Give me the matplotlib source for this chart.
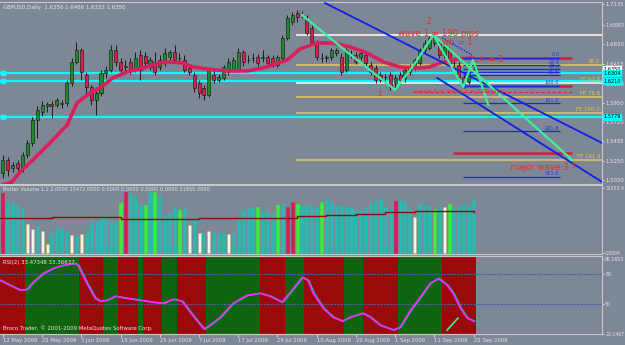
import numpy as np
import matplotlib
matplotlib.use('Agg')
import matplotlib.pyplot as plt
import matplotlib.transforms as mtransforms

# ---------------------------------------------------------------
# 画布尺寸（像素）与配色
# ---------------------------------------------------------------
W, H = 625, 345
BG = '#7d8796'
FG = '#e6e6e6'

# ---------------------------------------------------------------
# 数据：GBPUSD 日线（12 May 2009 – 22 Sep 2009，共 97 根 K 线）
# ---------------------------------------------------------------
opens = [1.5107, 1.5263, 1.5167, 1.5227, 1.5167, 1.5323, 1.5467, 1.5743, 1.5839, 1.5911,
         1.5935, 1.5923, 1.5935, 1.5947, 1.6187, 1.6439, 1.6583, 1.6283, 1.6139, 1.5983,
         1.6067, 1.6307, 1.6343, 1.6583, 1.6439, 1.6379, 1.6439, 1.6343, 1.6523, 1.6511,
         1.6379, 1.6439, 1.6379, 1.6427, 1.6499, 1.6559, 1.6487, 1.6463, 1.6367, 1.6283,
         1.6187, 1.6127, 1.6043, 1.6283, 1.6223, 1.6247, 1.6319, 1.6343, 1.6343, 1.6559,
         1.6463, 1.6487, 1.6499, 1.6487, 1.6499, 1.6487, 1.6403, 1.6487, 1.6727, 1.6919,
         1.7027, 1.7003, 1.6943, 1.6847, 1.6667, 1.6487, 1.6487, 1.6499, 1.6547, 1.6499,
         1.6343, 1.6523, 1.6523, 1.6499, 1.6523, 1.6403, 1.6367, 1.6283, 1.6259, 1.6283,
         1.6187, 1.6283, 1.6247, 1.6319, 1.6379, 1.6427, 1.6583, 1.6607, 1.6667, 1.6679,
         1.6523, 1.6583, 1.6427, 1.6403, 1.6259, 1.6199, 1.6356]
closes = [1.5263, 1.5143, 1.5203, 1.5167, 1.5323, 1.5467, 1.5743, 1.5863, 1.5923, 1.5935,
          1.5911, 1.5983, 1.5947, 1.6187, 1.6439, 1.6583, 1.6319, 1.6139, 1.5983, 1.6067,
          1.6307, 1.6343, 1.6583, 1.6439, 1.6343, 1.6391, 1.6343, 1.6487, 1.6343, 1.6427,
          1.6463, 1.6319, 1.6463, 1.6547, 1.6559, 1.6463, 1.6481, 1.6343, 1.6319, 1.6127,
          1.6067, 1.6043, 1.6343, 1.6223, 1.6259, 1.6379, 1.6439, 1.6463, 1.6559, 1.6439,
          1.6457, 1.6481, 1.6427, 1.6499, 1.6427, 1.6403, 1.6499, 1.6727, 1.6967, 1.7003,
          1.6979, 1.6997, 1.6787, 1.6679, 1.6499, 1.6481, 1.6493, 1.6583, 1.6583, 1.6319,
          1.6583, 1.6517, 1.6439, 1.6547, 1.6427, 1.6319, 1.6223, 1.6223, 1.6253, 1.6139,
          1.6247, 1.6223, 1.6343, 1.6379, 1.6463, 1.6583, 1.6667, 1.6727, 1.6739, 1.6523,
          1.6619, 1.6427, 1.6421, 1.6259, 1.6139, 1.6319, 1.6350]
highs = [1.5323, 1.5299, 1.5239, 1.5263, 1.5359, 1.5503, 1.5779, 1.5911, 1.5971, 1.5959,
         1.5971, 1.6007, 1.5983, 1.6223, 1.6487, 1.6679, 1.6607, 1.6319, 1.6163, 1.6139,
         1.6343, 1.6391, 1.6643, 1.6643, 1.6487, 1.6463, 1.6487, 1.6559, 1.6583, 1.6559,
         1.6499, 1.6559, 1.6523, 1.6607, 1.6583, 1.6643, 1.6547, 1.6523, 1.6403, 1.6319,
         1.6223, 1.6163, 1.6367, 1.6343, 1.6295, 1.6403, 1.6487, 1.6499, 1.6607, 1.6583,
         1.6523, 1.6547, 1.6535, 1.6583, 1.6523, 1.6523, 1.6523, 1.6763, 1.7003, 1.7039,
         1.7063, 1.7051, 1.7003, 1.6883, 1.6703, 1.6547, 1.6523, 1.6607, 1.6607, 1.6547,
         1.6607, 1.6583, 1.6559, 1.6583, 1.6559, 1.6439, 1.6403, 1.6319, 1.6295, 1.6319,
         1.6283, 1.6319, 1.6367, 1.6415, 1.6487, 1.6607, 1.6703, 1.6751, 1.6763, 1.6703,
         1.6643, 1.6619, 1.6463, 1.6439, 1.6283, 1.6343, 1.6466]
lows = [1.5047, 1.5071, 1.5119, 1.5095, 1.5119, 1.5287, 1.5431, 1.5527, 1.5791, 1.5839,
        1.5767, 1.5899, 1.5887, 1.5911, 1.6151, 1.6415, 1.6223, 1.6043, 1.5923, 1.5803,
        1.6031, 1.6247, 1.6319, 1.6391, 1.6283, 1.6319, 1.6295, 1.6319, 1.6223, 1.6391,
        1.6343, 1.6283, 1.6343, 1.6391, 1.6463, 1.6427, 1.6439, 1.6319, 1.6283, 1.6079,
        1.6007, 1.5983, 1.6019, 1.6187, 1.6199, 1.6223, 1.6283, 1.6319, 1.6319, 1.6391,
        1.6427, 1.6439, 1.6391, 1.6439, 1.6391, 1.6379, 1.6379, 1.6463, 1.6703, 1.6883,
        1.6919, 1.6967, 1.6763, 1.6643, 1.6463, 1.6439, 1.6439, 1.6463, 1.6511, 1.6283,
        1.6319, 1.6487, 1.6415, 1.6463, 1.6391, 1.6283, 1.6187, 1.6199, 1.6199, 1.6103,
        1.6103, 1.6175, 1.6199, 1.6283, 1.6343, 1.6403, 1.6547, 1.6583, 1.6631, 1.6487,
        1.6487, 1.6391, 1.6391, 1.6223, 1.6127, 1.6175, 1.6332]

# 均线（读取的若干点：bar 序号, 价格）
ma_idx = [-0.6, 1.8, 3.5, 6.1, 9.6, 13.1, 15.1, 17.8, 19.8, 22.4, 25.3, 28.6, 32.0, 34.0,
          36.5, 38.8, 41.6, 45.7, 49.8, 53.0, 55.0, 58.0, 60.6, 64.0, 67.3, 70.8, 74.3,
          77.6, 81.0, 84.5, 87.0, 89.8, 92.7, 96.0]
ma_val = [1.4951, 1.4999, 1.5119, 1.5263, 1.5467, 1.5683, 1.5947, 1.6067, 1.6127, 1.6247,
          1.6319, 1.6367, 1.6427, 1.6439, 1.6427, 1.6379, 1.6355, 1.6331, 1.6331, 1.6367,
          1.6403, 1.6463, 1.6595, 1.6667, 1.6667, 1.6619, 1.6547, 1.6439, 1.6379, 1.6367,
          1.6379, 1.6439, 1.6475, 1.6487]

# 成交量（Better Volume）及颜色类别
volumes = [29090, 24650, 24160, 23170, 21690, 14300, 11830, 13310, 10850, 4440,
           9860, 12330, 11830, 10850, 8870, 8380, 9370, 10850, 15780, 15780,
           16760, 18240, 15780, 15780, 24160, 29580, 29090, 27120, 23170, 23170,
           29580, 29580, 28100, 17260, 19230, 22190, 20710, 21690, 13800, 16760,
           9860, 9860, 10850, 9860, 9860, 9860, 9370, 9860, 17260, 20710,
           21690, 22190, 22190, 19720, 19720, 19230, 23170, 24160, 22190, 24650,
           23660, 23170, 23170, 23170, 21690, 24650, 26130, 24650, 23170, 22680,
           22190, 22190, 20210, 20710, 22190, 24160, 25140, 26130, 22190, 20710,
           25140, 25640, 24650, 20710, 17260, 24160, 23170, 22680, 21200, 22680,
           22190, 23660, 21690, 22680, 23660, 22680, 25640]
vol_kind = ['r', 't', 't', 't', 't', 'w', 'w', 't', 'w', 'w',
            't', 't', 't', 't', 'w', 't', 'w', 't', 't', 't',
            't', 't', 't', 't', 'g', 'r', 't', 't', 't', 'g',
            't', 'g', 't', 't', 't', 't', 'g', 't', 'w', 't',
            'w', 't', 'w', 't', 't', 't', 'w', 't', 't', 't',
            't', 't', 'g', 't', 't', 't', 'g', 't', 'r', 'r',
            'g', 't', 't', 't', 't', 'g', 't', 't', 't', 't',
            't', 't', 't', 't', 't', 't', 't', 't', 't', 't',
            'r', 't', 't', 't', 'w', 't', 't', 't', 'g', 't',
            'w', 'g', 't', 't', 't', 't', 't']
vol_ma_idx = [-0.6, 10, 24, 40, 50, 60, 66, 72, 78, 84, 90, 96]
vol_ma_val = [16760, 17260, 16270, 16760, 16760, 17750, 18240, 18730, 19720, 20210, 20210, 19720]

# RSI(2) 曲线
rsi_idx = [-0.6, 1.4, 3.5, 4.9, 6.1, 8.2, 10.2, 12.2, 14.7, 15.3, 17.1, 18.8, 19.8, 21.2,
           22.9, 25.3, 28.0, 30.6, 32.7, 34.7, 36.5, 38.2, 39.8, 41.0, 42.2, 44.3, 46.9,
           49.8, 52.4, 54.5, 56.9, 58.6, 61.0, 62.2, 63.3, 65.3, 67.3, 69.2, 70.8, 73.3,
           74.9, 76.9, 79.6, 81.0, 83.1, 85.1, 87.1, 88.8, 90.6, 91.8, 93.3, 94.7, 96.0]
rsi_val = [74, 69, 64, 65, 72, 81, 86, 89, 91, 89, 71, 56, 53, 54,
           58, 56, 54, 52, 51, 55, 53, 42, 32, 25, 29, 37, 51,
           59, 61, 58, 52, 62, 77, 74, 61, 46, 37, 33, 37, 41,
           37, 29, 24, 27, 44, 57, 71, 76, 69, 61, 46, 36, 33]
# RSI 背景区间（红/绿交替）
zone_edges = [-0.6, 4.5, 15.5, 20.5, 23.5, 27.5, 28.5, 32.5, 35.5, 41.5, 52.5, 57.5,
              61.5, 69.5, 73.5, 80.5, 89.5, 96.5]
zone_cols = ['r', 'g', 'r', 'g', 'r', 'g', 'r', 'g', 'r', 'g', 'r', 'g',
             'r', 'g', 'r', 'g', 'r']

# 水平线 / 斐波那契
cyan_levels = [1.6304, 1.6210, 1.5779]
level_prices = [1.6763, 1.6403, 1.6187, 1.6019, 1.5827, 1.5263]
level_cols = ['#efe4d6', '#cdbb6a', '#e8e6d8', '#cdbb6a', '#cdbb6a', '#cdbb6a']
fe_labels = ['', '38.2', 'FE 61.8', 'FE 78.6', 'FE 100.0', 'FE 161.8']
fib_top, fib_bot = 1.6487, 1.6151
fib_ratios = [0.0, 23.6, 38.2, 50.0, 61.8, 100.0, 161.8, 261.8, 423.6]
red_levels = [1.6487, 1.6151, 1.5347]
red_starts = [96.0, 93.9, 91.8]

# 波浪连线（绿色）
zz_idx = [61.0, 70.2, 80.0, 84.1, 87.8, 93.9, 95.9, 99.0]
zz_val = [1.7003, 1.6559, 1.6103, 1.6427, 1.6763, 1.6139, 1.6463, 1.5923]
long_idx = [87.8, 116.1]
long_val = [1.6763, 1.5263]
# 蓝色通道线
chan_a_idx, chan_a_val = [65.7, 122.2], [1.7147, 1.5467]
chan_b_idx, chan_b_val = [88.6, 122.2], [1.6247, 1.4999]
dot_idx, dot_val = [89.6, 95.7], [1.6727, 1.6523]

date_labels = ['12 May 2009', '22 May 2009', '3 Jun 2009', '15 Jun 2009', '25 Jun 2009',
               '7 Jul 2009', '17 Jul 2009', '29 Jul 2009', '10 Aug 2009', '20 Aug 2009',
               '1 Sep 2009', '11 Sep 2009', '22 Sep 2009']
price_ticks = [1.7135, 1.6880, 1.6650, 1.6415, 1.6180, 1.5950, 1.5720, 1.5485, 1.5250, 1.5020]

# ---------------------------------------------------------------
# 画布与子图（按像素定位，模仿 MT4 布局）
# ---------------------------------------------------------------
fig = plt.figure(figsize=(W / 100, H / 100), dpi=100, facecolor=BG)
SMALL = 3.9


def px_axes(x0, y0, x1, y1, lab=SMALL):
    ax = fig.add_axes([x0 / W, 1 - y1 / H, (x1 - x0) / W, (y1 - y0) / H])
    ax.set_facecolor(BG)
    for s in ax.spines.values():
        s.set_color('#c8c8c8')
        s.set_linewidth(0.8)
    ax.spines['left'].set_visible(False)
    ax.tick_params(colors=FG, labelsize=lab, length=1.5, width=0.6, pad=0.8)
    ax.yaxis.tick_right()
    ax.set_xticks([])
    return ax


XL = (-0.6, 122.2)
ax = px_axes(0, 2, 602, 184)
axv = px_axes(0, 185, 602, 254, lab=3.3)
axr = px_axes(0, 256, 602, 334, lab=3.3)
for a in (ax, axv, axr):
    a.set_xlim(*XL)

x = np.arange(len(opens))
o, c, h, l = map(np.array, (opens, closes, highs, lows))

# ---------------- 主图：K 线 ----------------
ax.set_ylim(1.4974, 1.7159)
ax.set_yticks(price_ticks)
ax.set_yticklabels([f'{p:.4f}' for p in price_ticks])

for p, col in zip(level_prices, level_cols):
    ax.hlines(p, 59.8, XL[1], color=col, lw=1.4, zorder=2)
for p in cyan_levels:
    ax.axhline(p, color='#00ffff', lw=1.6, zorder=2)
    ax.plot(0, p, 's', ms=2.5, color='#00ffff', zorder=3)

ax.vlines(x, l, h, color='#1a1a1a', lw=0.7, zorder=4)
up = c >= o
ax.bar(x[up], (c - o)[up], bottom=o[up], width=0.62, color='#1f8a2a',
       edgecolor='#101010', lw=0.4, zorder=5)
ax.bar(x[~up], (c - o)[~up], bottom=o[~up], width=0.62, color='#dc1f4a',
       edgecolor='#101010', lw=0.4, zorder=5)

ax.plot(ma_idx, ma_val, color='#dc1f5a', lw=2.6, solid_capstyle='round', zorder=6)

# 红色目标线
for p, s in zip(red_levels, red_starts):
    ax.hlines(p, s, 116.1, color='#d8203a', lw=1.8, zorder=6)
ax.hlines(1.6075, 83.7, 116.1, color='#d8203a', lw=0.8, ls=(0, (3, 2)), zorder=6)

# 斐波那契扩展（蓝色）
for r in fib_ratios:
    p = fib_top + (fib_bot - fib_top) * r / 100
    ax.hlines(p, 93.9, 113.7, color='#1c28e0', lw=0.9, zorder=7)
    ax.text(113.5, p + 0.0006, f'{r:.1f}', color='#2030ff', fontsize=3.6,
            ha='right', va='bottom', zorder=8)

# 蓝色通道
ax.plot(chan_a_idx, chan_a_val, color='#1020e8', lw=1.3, zorder=7)
ax.plot(chan_b_idx, chan_b_val, color='#1020e8', lw=1.3, zorder=7)
ax.plot(dot_idx, dot_val, color='#1020e8', lw=1.0, ls=(0, (1, 1)), zorder=7)

# 绿色波浪线
ax.plot(zz_idx, zz_val, color='#3cf0a0', lw=1.6, zorder=8)
ax.plot(long_idx, long_val, color='#3cf0a0', lw=1.6, zorder=8)

# 黄色 FE 标签
for p, t in zip(level_prices, fe_labels):
    if t:
        ax.text(121.8, p + 0.0010, t, color='#e0c840', fontsize=3.9,
                ha='right', va='bottom', zorder=8)

# 红色文字注释
red_txt = '#e8301e'
ax.text(86.9, 1.6919, '2', color=red_txt, fontsize=5.5, ha='center', va='center', zorder=9)
ax.text(88.8, 1.6775, 'wave 1 = 190 pips', color=red_txt, fontsize=6.2,
        ha='center', va='center', zorder=9)
ax.text(89.6, 1.6667, 'wh = 1', color=red_txt, fontsize=6.2, ha='left', va='center', zorder=9)
ax.text(96.3, 1.6463, 'ch = 3', color=red_txt, fontsize=6.2, ha='left', va='center', zorder=9)
ax.text(76.9, 1.6055, '1', color=red_txt, fontsize=5.0, ha='center', va='center', zorder=9)
ax.text(103.5, 1.5167, 'major wave 3 ?', color=red_txt, fontsize=6.2,
        ha='left', va='center', zorder=9)
ax.text(84.0, 1.6085, 'wave 4 = wave 1 = 190 pips', color=red_txt, fontsize=4.4,
        ha='left', va='center', zorder=9)

ax.text(0.005, 0.985, 'GBPUSD,Daily  1.6356 1.6466 1.6332 1.6350', transform=ax.transAxes,
        color=FG, fontsize=SMALL, ha='left', va='top', zorder=10)

# 右侧价格标签
tags = [(1.6350, '#ffffff'), (1.6304, '#00ffff'), (1.6210, '#00ffff'), (1.5779, '#00ffff')]
for p, col in tags:
    ax.text(1.002, p, f'{p:.4f}', transform=ax.get_yaxis_transform(), color='black',
            fontsize=3.6, ha='left', va='center', zorder=10, clip_on=False,
            bbox=dict(boxstyle='square,pad=0.12', fc=col, ec=col))

# ---------------- 成交量 ----------------
vcol = {'t': '#2ab8b0', 'g': '#36f03a', 'r': '#dc1a58', 'w': '#f2f2f2'}
vedge = {'t': '#2ab8b0', 'g': '#36f03a', 'r': '#dc1a58', 'w': '#c8b060'}
axv.bar(x, volumes, width=0.62, color=[vcol[k] for k in vol_kind],
        edgecolor=[vedge[k] for k in vol_kind], lw=0.4, zorder=3)
axv.plot(vol_ma_idx, vol_ma_val, color='#8b0a0a', lw=1.0, zorder=4, drawstyle='steps-post')
axv.set_ylim(-493, 33030)
axv.set_yticks([31553.4, 0])
axv.set_yticklabels(['31553.4', '0.0004'])
axv.text(0.005, 0.97, 'Better Volume 1.1 2.0000 25472.0000 0.0000 0.0000 0.0000 0.0000 31855.0000',
         transform=axv.transAxes, color=FG, fontsize=3.6, ha='left', va='top', zorder=5)

# ---------------- RSI ----------------
axr.set_ylim(20.15, 98.5)
zc = {'r': '#9a0a0a', 'g': '#11640f'}
for a0, a1, k in zip(zone_edges[:-1], zone_edges[1:], zone_cols):
    axr.axvspan(a0, a1, color=zc[k], lw=0, zorder=1)
for lv in (80, 50):
    axr.axhline(lv, color='#4c5cb0', lw=0.8, ls=(0, (2, 1)), zorder=2)
axr.plot(rsi_idx, rsi_val, color='#20b0b0', lw=1.2, zorder=3,
         transform=axr.transData + mtransforms.ScaledTranslation(1 / 100, 0, fig.dpi_scale_trans))
axr.plot(rsi_idx, rsi_val, color='#ff20ff', lw=1.1, zorder=4)
axr.plot([90.6, 92.8], [24, 36], color='#3cf0a0', lw=1.2, zorder=5)
axr.set_yticks([95.1653, 80, 50, 20.1467])
axr.set_yticklabels(['95.1653', '80', '50', '20.1467'])
axr.text(0.005, 0.95, 'RSI(2) 33.47348 33.36637', transform=axr.transAxes, color=FG,
         fontsize=SMALL, ha='left', va='top', zorder=6)
axr.text(0.005, 0.04, 'Broco Trader, \u00a9 2001-2009 MetaQuotes Software Corp.',
         transform=axr.transAxes, color=FG, fontsize=SMALL, ha='left', va='bottom', zorder=6)
axr.set_xticks(np.arange(0, 97, 8))
axr.set_xticklabels(date_labels, ha='left')
axr.tick_params(axis='x', colors=FG, labelsize=3.8, length=2, pad=1)

fig.savefig('out.png', dpi=100, facecolor=BG)
